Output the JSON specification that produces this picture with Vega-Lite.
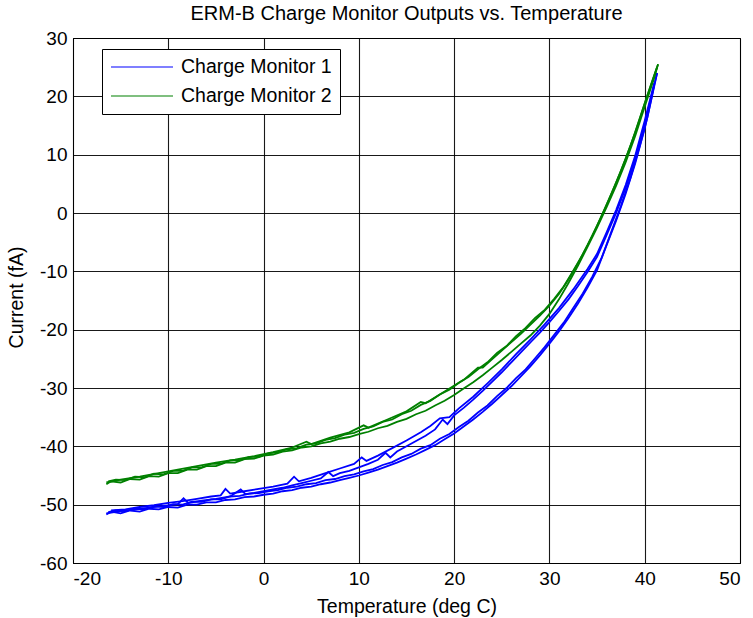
{
  "$schema": "https://vega.github.io/schema/vega-lite/v6.json",
  "width": 667,
  "height": 525,
  "autosize": "none",
  "padding": {"left": 73, "top": 38, "right": 13, "bottom": 55},
  "title": {"text": "ERM-B Charge Monitor Outputs vs. Temperature", "font": "Liberation Sans", "fontSize": 20, "fontWeight": "normal", "color": "#000", "frame": "group", "offset": 5},
  "config": {
    "view": {"stroke": "#000", "strokeWidth": 1},
    "axis": {"domainColor": "#000", "gridColor": "#000", "gridOpacity": 0.9, "gridWidth": 1.1, "ticks": false, "labelColor": "#000", "labelFont": "Liberation Sans", "labelFontSize": 19, "titleFont": "Liberation Sans", "titleFontSize": 19.5, "titleFontWeight": "normal", "titleColor": "#000", "labelExpr": "datum.value + ''"},
    "legend": {"labelFont": "Liberation Sans", "labelFontSize": 19.5, "labelColor": "#000"}
  },
  "data": {"values": [
{"m":"Charge Monitor 1","s":"a","x":-16.5,"y":-51.7},{"m":"Charge Monitor 1","s":"a","x":-16,"y":-51.2},{"m":"Charge Monitor 1","s":"a","x":-15,"y":-51.5},{"m":"Charge Monitor 1","s":"a","x":-14,"y":-51.0},{"m":"Charge Monitor 1","s":"a","x":-13,"y":-51.2},{"m":"Charge Monitor 1","s":"a","x":-12,"y":-50.7},{"m":"Charge Monitor 1","s":"a","x":-11,"y":-50.8},{"m":"Charge Monitor 1","s":"a","x":-10,"y":-50.4},{"m":"Charge Monitor 1","s":"a","x":-9,"y":-50.5},{"m":"Charge Monitor 1","s":"a","x":-8,"y":-50.0},{"m":"Charge Monitor 1","s":"a","x":-7,"y":-50.0},{"m":"Charge Monitor 1","s":"a","x":-6,"y":-49.6},{"m":"Charge Monitor 1","s":"a","x":-5,"y":-49.6},{"m":"Charge Monitor 1","s":"a","x":-4,"y":-49.2},{"m":"Charge Monitor 1","s":"a","x":-3,"y":-49.1},{"m":"Charge Monitor 1","s":"a","x":-2,"y":-48.7},{"m":"Charge Monitor 1","s":"a","x":-1,"y":-48.6},{"m":"Charge Monitor 1","s":"a","x":0,"y":-48.3},{"m":"Charge Monitor 1","s":"a","x":1,"y":-48.1},{"m":"Charge Monitor 1","s":"a","x":2,"y":-47.7},{"m":"Charge Monitor 1","s":"a","x":3,"y":-47.5},{"m":"Charge Monitor 1","s":"a","x":4,"y":-47.1},{"m":"Charge Monitor 1","s":"a","x":5,"y":-46.9},{"m":"Charge Monitor 1","s":"a","x":6,"y":-46.5},{"m":"Charge Monitor 1","s":"a","x":7,"y":-46.2},{"m":"Charge Monitor 1","s":"a","x":8,"y":-45.8},{"m":"Charge Monitor 1","s":"a","x":9,"y":-45.4},{"m":"Charge Monitor 1","s":"a","x":10,"y":-45.0},{"m":"Charge Monitor 1","s":"a","x":11,"y":-44.5},{"m":"Charge Monitor 1","s":"a","x":12,"y":-44.0},{"m":"Charge Monitor 1","s":"a","x":13,"y":-43.4},{"m":"Charge Monitor 1","s":"a","x":14,"y":-42.8},{"m":"Charge Monitor 1","s":"a","x":15,"y":-42.1},{"m":"Charge Monitor 1","s":"a","x":16,"y":-41.4},{"m":"Charge Monitor 1","s":"a","x":17,"y":-40.6},{"m":"Charge Monitor 1","s":"a","x":18,"y":-39.8},{"m":"Charge Monitor 1","s":"a","x":19,"y":-38.8},{"m":"Charge Monitor 1","s":"a","x":20,"y":-37.8},{"m":"Charge Monitor 1","s":"a","x":21,"y":-36.6},{"m":"Charge Monitor 1","s":"a","x":22,"y":-35.4},{"m":"Charge Monitor 1","s":"a","x":23,"y":-34.1},{"m":"Charge Monitor 1","s":"a","x":24,"y":-32.7},{"m":"Charge Monitor 1","s":"a","x":25,"y":-31.2},{"m":"Charge Monitor 1","s":"a","x":26,"y":-29.7},{"m":"Charge Monitor 1","s":"a","x":27,"y":-28.0},{"m":"Charge Monitor 1","s":"a","x":28,"y":-26.3},{"m":"Charge Monitor 1","s":"a","x":29,"y":-24.4},{"m":"Charge Monitor 1","s":"a","x":30,"y":-22.4},{"m":"Charge Monitor 1","s":"a","x":31,"y":-20.3},{"m":"Charge Monitor 1","s":"a","x":32,"y":-18.0},{"m":"Charge Monitor 1","s":"a","x":33,"y":-15.5},{"m":"Charge Monitor 1","s":"a","x":34,"y":-12.8},{"m":"Charge Monitor 1","s":"a","x":35,"y":-9.8},{"m":"Charge Monitor 1","s":"a","x":36,"y":-5.5},{"m":"Charge Monitor 1","s":"a","x":37,"y":-1.3},{"m":"Charge Monitor 1","s":"a","x":38,"y":3.3},{"m":"Charge Monitor 1","s":"a","x":39,"y":8.5},{"m":"Charge Monitor 1","s":"a","x":40,"y":14.5},{"m":"Charge Monitor 1","s":"a","x":40.7,"y":19.5},{"m":"Charge Monitor 1","s":"a","x":41.3,"y":24.0},
{"m":"Charge Monitor 1","s":"b","x":-16.3,"y":-51.3},{"m":"Charge Monitor 1","s":"b","x":-15.5,"y":-51.0},{"m":"Charge Monitor 1","s":"b","x":-14.5,"y":-51.1},{"m":"Charge Monitor 1","s":"b","x":-13.5,"y":-50.7},{"m":"Charge Monitor 1","s":"b","x":-12.5,"y":-50.8},{"m":"Charge Monitor 1","s":"b","x":-11.5,"y":-50.3},{"m":"Charge Monitor 1","s":"b","x":-10.5,"y":-50.4},{"m":"Charge Monitor 1","s":"b","x":-9.5,"y":-49.9},{"m":"Charge Monitor 1","s":"b","x":-8.5,"y":-50.0},{"m":"Charge Monitor 1","s":"b","x":-7.5,"y":-49.5},{"m":"Charge Monitor 1","s":"b","x":-6.5,"y":-49.5},{"m":"Charge Monitor 1","s":"b","x":-5.5,"y":-49.1},{"m":"Charge Monitor 1","s":"b","x":-4.5,"y":-49.1},{"m":"Charge Monitor 1","s":"b","x":-3.5,"y":-48.6},{"m":"Charge Monitor 1","s":"b","x":-2.5,"y":-48.5},{"m":"Charge Monitor 1","s":"b","x":-1.5,"y":-48.1},{"m":"Charge Monitor 1","s":"b","x":-0.5,"y":-48.0},{"m":"Charge Monitor 1","s":"b","x":0.5,"y":-47.7},{"m":"Charge Monitor 1","s":"b","x":1.5,"y":-47.5},{"m":"Charge Monitor 1","s":"b","x":2.5,"y":-47.1},{"m":"Charge Monitor 1","s":"b","x":3.5,"y":-46.9},{"m":"Charge Monitor 1","s":"b","x":4.5,"y":-46.5},{"m":"Charge Monitor 1","s":"b","x":5.5,"y":-46.3},{"m":"Charge Monitor 1","s":"b","x":6.5,"y":-45.8},{"m":"Charge Monitor 1","s":"b","x":7.5,"y":-45.6},{"m":"Charge Monitor 1","s":"b","x":8.5,"y":-45.1},{"m":"Charge Monitor 1","s":"b","x":9.5,"y":-44.8},{"m":"Charge Monitor 1","s":"b","x":10.5,"y":-44.3},{"m":"Charge Monitor 1","s":"b","x":11.5,"y":-43.9},{"m":"Charge Monitor 1","s":"b","x":12.5,"y":-43.2},{"m":"Charge Monitor 1","s":"b","x":13.5,"y":-42.7},{"m":"Charge Monitor 1","s":"b","x":14.5,"y":-41.9},{"m":"Charge Monitor 1","s":"b","x":15.5,"y":-41.3},{"m":"Charge Monitor 1","s":"b","x":16.5,"y":-40.4},{"m":"Charge Monitor 1","s":"b","x":17.5,"y":-39.8},{"m":"Charge Monitor 1","s":"b","x":18.5,"y":-38.7},{"m":"Charge Monitor 1","s":"b","x":19.5,"y":-37.9},{"m":"Charge Monitor 1","s":"b","x":20.5,"y":-36.7},{"m":"Charge Monitor 1","s":"b","x":21.5,"y":-35.6},{"m":"Charge Monitor 1","s":"b","x":22.5,"y":-34.2},{"m":"Charge Monitor 1","s":"b","x":23.5,"y":-33.0},{"m":"Charge Monitor 1","s":"b","x":24.5,"y":-31.4},{"m":"Charge Monitor 1","s":"b","x":25.5,"y":-30.0},{"m":"Charge Monitor 1","s":"b","x":26.5,"y":-28.3},{"m":"Charge Monitor 1","s":"b","x":27.5,"y":-26.8},{"m":"Charge Monitor 1","s":"b","x":28.5,"y":-24.9},{"m":"Charge Monitor 1","s":"b","x":29.5,"y":-23.0},{"m":"Charge Monitor 1","s":"b","x":30.5,"y":-20.9},{"m":"Charge Monitor 1","s":"b","x":31.5,"y":-18.8},{"m":"Charge Monitor 1","s":"b","x":32.5,"y":-16.3},{"m":"Charge Monitor 1","s":"b","x":33.5,"y":-13.8},{"m":"Charge Monitor 1","s":"b","x":34.5,"y":-10.9},{"m":"Charge Monitor 1","s":"b","x":35.5,"y":-7.6},{"m":"Charge Monitor 1","s":"b","x":36.5,"y":-3.2},{"m":"Charge Monitor 1","s":"b","x":37.5,"y":1.2},{"m":"Charge Monitor 1","s":"b","x":38.5,"y":6.0},{"m":"Charge Monitor 1","s":"b","x":39.5,"y":11.6},{"m":"Charge Monitor 1","s":"b","x":40.3,"y":16.5},{"m":"Charge Monitor 1","s":"b","x":41.0,"y":22.0},
{"m":"Charge Monitor 1","s":"c","x":-16.5,"y":-51.5},{"m":"Charge Monitor 1","s":"c","x":-15,"y":-51.1},{"m":"Charge Monitor 1","s":"c","x":-13.5,"y":-50.8},{"m":"Charge Monitor 1","s":"c","x":-12,"y":-50.5},{"m":"Charge Monitor 1","s":"c","x":-10.5,"y":-50.2},{"m":"Charge Monitor 1","s":"c","x":-9,"y":-49.9},{"m":"Charge Monitor 1","s":"c","x":-8.4,"y":-48.9},{"m":"Charge Monitor 1","s":"c","x":-7.9,"y":-49.7},{"m":"Charge Monitor 1","s":"c","x":-6.5,"y":-49.3},{"m":"Charge Monitor 1","s":"c","x":-5,"y":-49.0},{"m":"Charge Monitor 1","s":"c","x":-3.5,"y":-48.6},{"m":"Charge Monitor 1","s":"c","x":-2.4,"y":-47.4},{"m":"Charge Monitor 1","s":"c","x":-1.9,"y":-48.2},{"m":"Charge Monitor 1","s":"c","x":-1,"y":-48.0},{"m":"Charge Monitor 1","s":"c","x":0,"y":-47.7},{"m":"Charge Monitor 1","s":"c","x":1,"y":-47.4},{"m":"Charge Monitor 1","s":"c","x":2,"y":-47.1},{"m":"Charge Monitor 1","s":"c","x":3,"y":-46.7},{"m":"Charge Monitor 1","s":"c","x":4,"y":-46.3},{"m":"Charge Monitor 1","s":"c","x":5,"y":-45.9},{"m":"Charge Monitor 1","s":"c","x":6,"y":-45.5},{"m":"Charge Monitor 1","s":"c","x":6.8,"y":-44.4},{"m":"Charge Monitor 1","s":"c","x":7.3,"y":-45.1},{"m":"Charge Monitor 1","s":"c","x":8,"y":-44.6},{"m":"Charge Monitor 1","s":"c","x":9,"y":-44.2},{"m":"Charge Monitor 1","s":"c","x":10,"y":-43.6},{"m":"Charge Monitor 1","s":"c","x":11,"y":-43.0},{"m":"Charge Monitor 1","s":"c","x":12,"y":-42.3},{"m":"Charge Monitor 1","s":"c","x":12.8,"y":-41.1},{"m":"Charge Monitor 1","s":"c","x":13.3,"y":-41.9},{"m":"Charge Monitor 1","s":"c","x":14,"y":-40.9},{"m":"Charge Monitor 1","s":"c","x":15,"y":-40.0},{"m":"Charge Monitor 1","s":"c","x":16,"y":-39.1},{"m":"Charge Monitor 1","s":"c","x":17,"y":-38.2},{"m":"Charge Monitor 1","s":"c","x":18,"y":-37.1},{"m":"Charge Monitor 1","s":"c","x":18.8,"y":-35.4},{"m":"Charge Monitor 1","s":"c","x":19.3,"y":-36.2},{"m":"Charge Monitor 1","s":"c","x":20,"y":-34.7},{"m":"Charge Monitor 1","s":"c","x":21,"y":-33.4},{"m":"Charge Monitor 1","s":"c","x":22,"y":-32.0},{"m":"Charge Monitor 1","s":"c","x":23,"y":-30.5},{"m":"Charge Monitor 1","s":"c","x":24,"y":-28.9},{"m":"Charge Monitor 1","s":"c","x":25,"y":-27.3},{"m":"Charge Monitor 1","s":"c","x":26,"y":-25.6},{"m":"Charge Monitor 1","s":"c","x":27,"y":-23.9},{"m":"Charge Monitor 1","s":"c","x":28,"y":-22.2},{"m":"Charge Monitor 1","s":"c","x":29,"y":-20.5},{"m":"Charge Monitor 1","s":"c","x":30,"y":-18.7},{"m":"Charge Monitor 1","s":"c","x":31,"y":-16.8},{"m":"Charge Monitor 1","s":"c","x":32,"y":-14.8},{"m":"Charge Monitor 1","s":"c","x":33,"y":-12.5},{"m":"Charge Monitor 1","s":"c","x":34,"y":-10.1},{"m":"Charge Monitor 1","s":"c","x":35,"y":-7.5},{"m":"Charge Monitor 1","s":"c","x":36,"y":-3.8},{"m":"Charge Monitor 1","s":"c","x":37,"y":0.0},{"m":"Charge Monitor 1","s":"c","x":38,"y":4.3},{"m":"Charge Monitor 1","s":"c","x":39,"y":9.3},{"m":"Charge Monitor 1","s":"c","x":40,"y":15.3},{"m":"Charge Monitor 1","s":"c","x":41,"y":22.0},{"m":"Charge Monitor 1","s":"c","x":41.3,"y":24.0},
{"m":"Charge Monitor 1","s":"d","x":-16,"y":-51.0},{"m":"Charge Monitor 1","s":"d","x":-14.5,"y":-50.8},{"m":"Charge Monitor 1","s":"d","x":-13,"y":-50.4},{"m":"Charge Monitor 1","s":"d","x":-11.5,"y":-50.1},{"m":"Charge Monitor 1","s":"d","x":-10,"y":-49.7},{"m":"Charge Monitor 1","s":"d","x":-8.5,"y":-49.4},{"m":"Charge Monitor 1","s":"d","x":-7,"y":-49.0},{"m":"Charge Monitor 1","s":"d","x":-5.5,"y":-48.6},{"m":"Charge Monitor 1","s":"d","x":-4.5,"y":-48.4},{"m":"Charge Monitor 1","s":"d","x":-4,"y":-47.3},{"m":"Charge Monitor 1","s":"d","x":-3.5,"y":-48.1},{"m":"Charge Monitor 1","s":"d","x":-2,"y":-47.7},{"m":"Charge Monitor 1","s":"d","x":-0.5,"y":-47.3},{"m":"Charge Monitor 1","s":"d","x":1,"y":-46.9},{"m":"Charge Monitor 1","s":"d","x":2.5,"y":-46.4},{"m":"Charge Monitor 1","s":"d","x":3.2,"y":-45.2},{"m":"Charge Monitor 1","s":"d","x":3.7,"y":-46.0},{"m":"Charge Monitor 1","s":"d","x":5,"y":-45.4},{"m":"Charge Monitor 1","s":"d","x":6.5,"y":-44.6},{"m":"Charge Monitor 1","s":"d","x":8,"y":-43.8},{"m":"Charge Monitor 1","s":"d","x":9.5,"y":-43.0},{"m":"Charge Monitor 1","s":"d","x":10.3,"y":-41.9},{"m":"Charge Monitor 1","s":"d","x":10.8,"y":-42.5},{"m":"Charge Monitor 1","s":"d","x":12,"y":-41.6},{"m":"Charge Monitor 1","s":"d","x":13.5,"y":-40.3},{"m":"Charge Monitor 1","s":"d","x":15,"y":-39.0},{"m":"Charge Monitor 1","s":"d","x":16.5,"y":-37.6},{"m":"Charge Monitor 1","s":"d","x":17.5,"y":-36.5},{"m":"Charge Monitor 1","s":"d","x":18.5,"y":-35.2},{"m":"Charge Monitor 1","s":"d","x":19.5,"y":-35.0},{"m":"Charge Monitor 1","s":"d","x":20.5,"y":-33.5},{"m":"Charge Monitor 1","s":"d","x":22,"y":-31.5},{"m":"Charge Monitor 1","s":"d","x":23.5,"y":-29.2},{"m":"Charge Monitor 1","s":"d","x":25,"y":-26.8},{"m":"Charge Monitor 1","s":"d","x":26.5,"y":-24.2},{"m":"Charge Monitor 1","s":"d","x":28,"y":-21.7},{"m":"Charge Monitor 1","s":"d","x":29.5,"y":-19.1},{"m":"Charge Monitor 1","s":"d","x":31,"y":-16.3},{"m":"Charge Monitor 1","s":"d","x":32.5,"y":-13.1},{"m":"Charge Monitor 1","s":"d","x":34,"y":-9.6},{"m":"Charge Monitor 1","s":"d","x":35,"y":-7.0},{"m":"Charge Monitor 1","s":"d","x":36,"y":-3.3},{"m":"Charge Monitor 1","s":"d","x":37,"y":0.5},{"m":"Charge Monitor 1","s":"d","x":38,"y":4.8},{"m":"Charge Monitor 1","s":"d","x":39,"y":9.8},{"m":"Charge Monitor 1","s":"d","x":40,"y":15.8},{"m":"Charge Monitor 1","s":"d","x":41,"y":22.3},
{"m":"Charge Monitor 2","s":"e","x":-16.5,"y":-46.5},{"m":"Charge Monitor 2","s":"e","x":-16,"y":-46.0},{"m":"Charge Monitor 2","s":"e","x":-15,"y":-46.2},{"m":"Charge Monitor 2","s":"e","x":-14,"y":-45.6},{"m":"Charge Monitor 2","s":"e","x":-13,"y":-45.7},{"m":"Charge Monitor 2","s":"e","x":-12,"y":-45.1},{"m":"Charge Monitor 2","s":"e","x":-11,"y":-45.2},{"m":"Charge Monitor 2","s":"e","x":-10,"y":-44.6},{"m":"Charge Monitor 2","s":"e","x":-9,"y":-44.6},{"m":"Charge Monitor 2","s":"e","x":-8,"y":-44.0},{"m":"Charge Monitor 2","s":"e","x":-7,"y":-44.0},{"m":"Charge Monitor 2","s":"e","x":-6,"y":-43.4},{"m":"Charge Monitor 2","s":"e","x":-5,"y":-43.4},{"m":"Charge Monitor 2","s":"e","x":-4,"y":-42.8},{"m":"Charge Monitor 2","s":"e","x":-3,"y":-42.8},{"m":"Charge Monitor 2","s":"e","x":-2,"y":-42.2},{"m":"Charge Monitor 2","s":"e","x":-1,"y":-42.1},{"m":"Charge Monitor 2","s":"e","x":0,"y":-41.6},{"m":"Charge Monitor 2","s":"e","x":1,"y":-41.4},{"m":"Charge Monitor 2","s":"e","x":2,"y":-40.9},{"m":"Charge Monitor 2","s":"e","x":3,"y":-40.7},{"m":"Charge Monitor 2","s":"e","x":4,"y":-40.2},{"m":"Charge Monitor 2","s":"e","x":5,"y":-40.0},{"m":"Charge Monitor 2","s":"e","x":6,"y":-39.5},{"m":"Charge Monitor 2","s":"e","x":7,"y":-39.2},{"m":"Charge Monitor 2","s":"e","x":8,"y":-38.7},{"m":"Charge Monitor 2","s":"e","x":9,"y":-38.4},{"m":"Charge Monitor 2","s":"e","x":10,"y":-37.9},{"m":"Charge Monitor 2","s":"e","x":11,"y":-37.5},{"m":"Charge Monitor 2","s":"e","x":12,"y":-36.9},{"m":"Charge Monitor 2","s":"e","x":13,"y":-36.5},{"m":"Charge Monitor 2","s":"e","x":14,"y":-35.8},{"m":"Charge Monitor 2","s":"e","x":15,"y":-35.3},{"m":"Charge Monitor 2","s":"e","x":16,"y":-34.5},{"m":"Charge Monitor 2","s":"e","x":17,"y":-33.9},{"m":"Charge Monitor 2","s":"e","x":18,"y":-33.0},{"m":"Charge Monitor 2","s":"e","x":19,"y":-32.2},{"m":"Charge Monitor 2","s":"e","x":20,"y":-31.2},{"m":"Charge Monitor 2","s":"e","x":21,"y":-30.1},{"m":"Charge Monitor 2","s":"e","x":22,"y":-29.0},{"m":"Charge Monitor 2","s":"e","x":23,"y":-27.8},{"m":"Charge Monitor 2","s":"e","x":24,"y":-26.5},{"m":"Charge Monitor 2","s":"e","x":25,"y":-25.2},{"m":"Charge Monitor 2","s":"e","x":26,"y":-23.8},{"m":"Charge Monitor 2","s":"e","x":27,"y":-22.4},{"m":"Charge Monitor 2","s":"e","x":28,"y":-21.0},{"m":"Charge Monitor 2","s":"e","x":29,"y":-19.3},{"m":"Charge Monitor 2","s":"e","x":30,"y":-17.3},{"m":"Charge Monitor 2","s":"e","x":31,"y":-14.8},{"m":"Charge Monitor 2","s":"e","x":32,"y":-12.0},{"m":"Charge Monitor 2","s":"e","x":33,"y":-9.0},{"m":"Charge Monitor 2","s":"e","x":34,"y":-5.8},{"m":"Charge Monitor 2","s":"e","x":35,"y":-2.5},{"m":"Charge Monitor 2","s":"e","x":36,"y":1.0},{"m":"Charge Monitor 2","s":"e","x":37,"y":4.7},{"m":"Charge Monitor 2","s":"e","x":38,"y":8.7},{"m":"Charge Monitor 2","s":"e","x":39,"y":13.2},{"m":"Charge Monitor 2","s":"e","x":40,"y":18.2},{"m":"Charge Monitor 2","s":"e","x":41,"y":23.2},{"m":"Charge Monitor 2","s":"e","x":41.4,"y":25.5},
{"m":"Charge Monitor 2","s":"f","x":-16.3,"y":-46.0},{"m":"Charge Monitor 2","s":"f","x":-15.5,"y":-45.7},{"m":"Charge Monitor 2","s":"f","x":-14.5,"y":-45.8},{"m":"Charge Monitor 2","s":"f","x":-13.5,"y":-45.2},{"m":"Charge Monitor 2","s":"f","x":-12.5,"y":-45.3},{"m":"Charge Monitor 2","s":"f","x":-11.5,"y":-44.7},{"m":"Charge Monitor 2","s":"f","x":-10.5,"y":-44.8},{"m":"Charge Monitor 2","s":"f","x":-9.5,"y":-44.2},{"m":"Charge Monitor 2","s":"f","x":-8.5,"y":-44.2},{"m":"Charge Monitor 2","s":"f","x":-7.5,"y":-43.6},{"m":"Charge Monitor 2","s":"f","x":-6.5,"y":-43.6},{"m":"Charge Monitor 2","s":"f","x":-5.5,"y":-43.0},{"m":"Charge Monitor 2","s":"f","x":-4.5,"y":-43.0},{"m":"Charge Monitor 2","s":"f","x":-3.5,"y":-42.4},{"m":"Charge Monitor 2","s":"f","x":-2.5,"y":-42.4},{"m":"Charge Monitor 2","s":"f","x":-1.5,"y":-41.8},{"m":"Charge Monitor 2","s":"f","x":-0.5,"y":-41.8},{"m":"Charge Monitor 2","s":"f","x":0.5,"y":-41.2},{"m":"Charge Monitor 2","s":"f","x":1.5,"y":-41.0},{"m":"Charge Monitor 2","s":"f","x":2.5,"y":-40.5},{"m":"Charge Monitor 2","s":"f","x":3.5,"y":-40.3},{"m":"Charge Monitor 2","s":"f","x":4.5,"y":-39.7},{"m":"Charge Monitor 2","s":"f","x":5.5,"y":-39.5},{"m":"Charge Monitor 2","s":"f","x":6.5,"y":-38.9},{"m":"Charge Monitor 2","s":"f","x":7.5,"y":-38.6},{"m":"Charge Monitor 2","s":"f","x":8.5,"y":-38.0},{"m":"Charge Monitor 2","s":"f","x":9.5,"y":-37.7},{"m":"Charge Monitor 2","s":"f","x":10.5,"y":-37.0},{"m":"Charge Monitor 2","s":"f","x":11.5,"y":-36.6},{"m":"Charge Monitor 2","s":"f","x":12.5,"y":-35.8},{"m":"Charge Monitor 2","s":"f","x":13.5,"y":-35.4},{"m":"Charge Monitor 2","s":"f","x":14.5,"y":-34.5},{"m":"Charge Monitor 2","s":"f","x":15.5,"y":-33.9},{"m":"Charge Monitor 2","s":"f","x":16.5,"y":-32.9},{"m":"Charge Monitor 2","s":"f","x":17.5,"y":-32.2},{"m":"Charge Monitor 2","s":"f","x":18.5,"y":-31.1},{"m":"Charge Monitor 2","s":"f","x":19.5,"y":-30.3},{"m":"Charge Monitor 2","s":"f","x":20.5,"y":-29.1},{"m":"Charge Monitor 2","s":"f","x":21.5,"y":-28.1},{"m":"Charge Monitor 2","s":"f","x":22.5,"y":-26.8},{"m":"Charge Monitor 2","s":"f","x":23.5,"y":-25.6},{"m":"Charge Monitor 2","s":"f","x":24.5,"y":-24.0},{"m":"Charge Monitor 2","s":"f","x":25.5,"y":-22.8},{"m":"Charge Monitor 2","s":"f","x":26.5,"y":-21.1},{"m":"Charge Monitor 2","s":"f","x":27.5,"y":-19.7},{"m":"Charge Monitor 2","s":"f","x":28.5,"y":-18.0},{"m":"Charge Monitor 2","s":"f","x":29.5,"y":-16.6},{"m":"Charge Monitor 2","s":"f","x":30.5,"y":-14.7},{"m":"Charge Monitor 2","s":"f","x":31.5,"y":-12.6},{"m":"Charge Monitor 2","s":"f","x":32.5,"y":-9.9},{"m":"Charge Monitor 2","s":"f","x":33.5,"y":-7.1},{"m":"Charge Monitor 2","s":"f","x":34.5,"y":-3.9},{"m":"Charge Monitor 2","s":"f","x":35.5,"y":-0.4},{"m":"Charge Monitor 2","s":"f","x":36.5,"y":3.3},{"m":"Charge Monitor 2","s":"f","x":37.5,"y":7.2},{"m":"Charge Monitor 2","s":"f","x":38.5,"y":11.5},{"m":"Charge Monitor 2","s":"f","x":39.5,"y":16.3},{"m":"Charge Monitor 2","s":"f","x":40.5,"y":21.2},{"m":"Charge Monitor 2","s":"f","x":41.3,"y":25.0},
{"m":"Charge Monitor 2","s":"g","x":-16.5,"y":-46.2},{"m":"Charge Monitor 2","s":"g","x":-15,"y":-45.7},{"m":"Charge Monitor 2","s":"g","x":-13,"y":-45.2},{"m":"Charge Monitor 2","s":"g","x":-11,"y":-44.6},{"m":"Charge Monitor 2","s":"g","x":-9,"y":-44.0},{"m":"Charge Monitor 2","s":"g","x":-7,"y":-43.4},{"m":"Charge Monitor 2","s":"g","x":-5,"y":-42.8},{"m":"Charge Monitor 2","s":"g","x":-3,"y":-42.3},{"m":"Charge Monitor 2","s":"g","x":-1,"y":-41.7},{"m":"Charge Monitor 2","s":"g","x":1,"y":-41.0},{"m":"Charge Monitor 2","s":"g","x":3,"y":-40.2},{"m":"Charge Monitor 2","s":"g","x":4.5,"y":-39.2},{"m":"Charge Monitor 2","s":"g","x":5,"y":-39.6},{"m":"Charge Monitor 2","s":"g","x":7,"y":-38.5},{"m":"Charge Monitor 2","s":"g","x":9,"y":-37.6},{"m":"Charge Monitor 2","s":"g","x":10.5,"y":-36.4},{"m":"Charge Monitor 2","s":"g","x":11,"y":-36.8},{"m":"Charge Monitor 2","s":"g","x":13,"y":-35.4},{"m":"Charge Monitor 2","s":"g","x":15,"y":-34.0},{"m":"Charge Monitor 2","s":"g","x":16.5,"y":-32.4},{"m":"Charge Monitor 2","s":"g","x":17,"y":-32.6},{"m":"Charge Monitor 2","s":"g","x":19,"y":-30.6},{"m":"Charge Monitor 2","s":"g","x":21,"y":-28.6},{"m":"Charge Monitor 2","s":"g","x":22.5,"y":-26.5},{"m":"Charge Monitor 2","s":"g","x":23,"y":-26.5},{"m":"Charge Monitor 2","s":"g","x":25,"y":-23.6},{"m":"Charge Monitor 2","s":"g","x":27,"y":-20.7},{"m":"Charge Monitor 2","s":"g","x":29,"y":-17.6},{"m":"Charge Monitor 2","s":"g","x":30,"y":-15.9},{"m":"Charge Monitor 2","s":"g","x":31,"y":-13.9},{"m":"Charge Monitor 2","s":"g","x":32,"y":-11.4},{"m":"Charge Monitor 2","s":"g","x":33,"y":-8.6},{"m":"Charge Monitor 2","s":"g","x":34,"y":-5.5},{"m":"Charge Monitor 2","s":"g","x":35,"y":-2.2},{"m":"Charge Monitor 2","s":"g","x":36,"y":1.4},{"m":"Charge Monitor 2","s":"g","x":37,"y":5.2},{"m":"Charge Monitor 2","s":"g","x":38,"y":9.3},{"m":"Charge Monitor 2","s":"g","x":39,"y":13.8},{"m":"Charge Monitor 2","s":"g","x":40,"y":18.8},{"m":"Charge Monitor 2","s":"g","x":41,"y":23.6},{"m":"Charge Monitor 2","s":"g","x":41.4,"y":25.5}
  ]},
  "mark": {"type": "line", "strokeWidth": 1.8, "clip": true},
  "encoding": {
    "x": {"field": "x", "type": "quantitative", "scale": {"domain": [-20, 50], "nice": false, "zero": false},
      "axis": {"values": [-20, -10, 0, 10, 20, 30, 40, 50], "grid": true, "labelPadding": 6, "title": "Temperature (deg C)", "titleY": 43, "titleBaseline": "middle"}},
    "y": {"field": "y", "type": "quantitative", "scale": {"domain": [-60, 30], "nice": false, "zero": false},
      "axis": {"values": [-60, -50, -40, -30, -20, -10, 0, 10, 20, 30], "grid": true, "labelPadding": 6, "title": "Current (fA)", "titleX": -57, "titleY": 259, "titleBaseline": "middle", "titleAlign": "center", "titleAngle": -90}},
    "color": {"field": "m", "type": "nominal", "scale": {"domain": ["Charge Monitor 1", "Charge Monitor 2"], "range": ["#0000ff", "#008000"]},
      "legend": {"title": null, "orient": "none", "legendX": 29, "legendY": 11, "strokeColor": "#000", "fillColor": "#fff", "padding": 8, "symbolType": "stroke", "symbolSize": 3844, "symbolStrokeWidth": 1.2, "clipHeight": 20, "rowPadding": 9, "labelOffset": 7}},
    "detail": {"field": "s", "type": "nominal"}
  }
}
